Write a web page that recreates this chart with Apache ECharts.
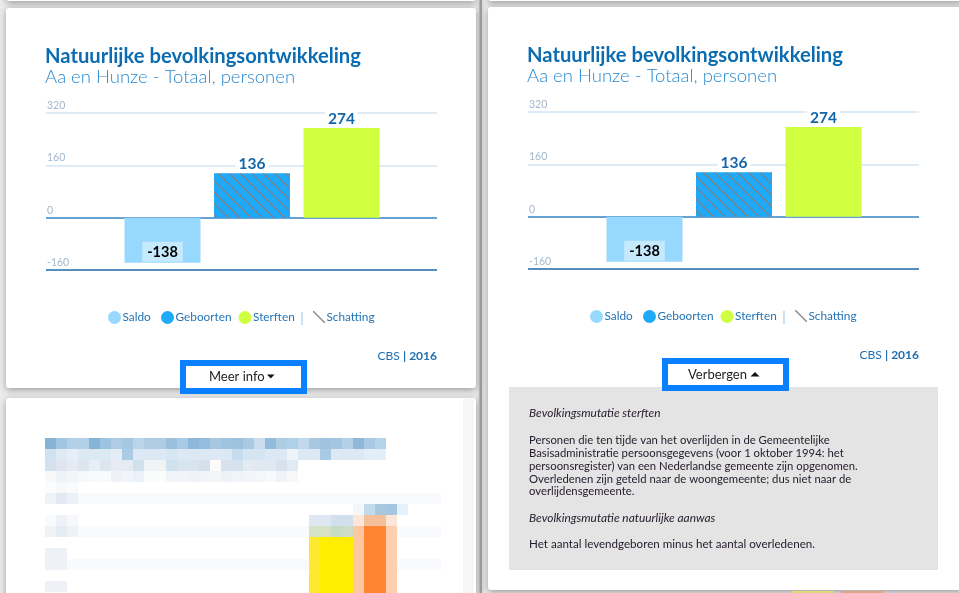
<!DOCTYPE html>
<html><head><meta charset="utf-8">
<script src="https://cdn.jsdelivr.net/npm/echarts@6/dist/echarts.min.js"></script>
<style>html,body{margin:0;padding:0;background:#ececec;}#c{width:959px;height:593px;}</style>
</head><body><div id="c"></div>
<script>
// ---- data ----
const chartTitle = 'Natuurlijke bevolkingsontwikkeling';
const chartSubtitle = 'Aa en Hunze - Totaal, personen';
const categories = ['Saldo', 'Geboorten', 'Sterften'];
const values = [-138, 136, 274];
const estimateName = 'Schatting';
const estimateValues = ['-', 136, '-'];
const yMin = -160, yMax = 320, yStep = 160;
const sourceText = 'CBS';
const sourceYear = '2016';
const buttonLabels = ['Meer info', 'Verbergen'];
const infoHeading1 = 'Bevolkingsmutatie sterften';
const infoBody1 = [
  'Personen die ten tijde van het overlijden in de Gemeentelijke',
  'Basisadministratie persoonsgegevens (voor 1 oktober 1994: het',
  'persoonsregister) van een Nederlandse gemeente zijn opgenomen.',
  'Overledenen zijn geteld naar de woongemeente; dus niet naar de',
  'overlijdensgemeente.'
];
const infoHeading2 = 'Bevolkingsmutatie natuurlijke aanwas';
const infoBody2 = 'Het aantal levendgeboren minus het aantal overledenen.';

// ---- styling ----
const FONT = 'Lato, "Open Sans", sans-serif';
const seriesColors = ['#97d8fe', '#1eaaf9', '#cfff3f'];
const legendLefts = [108, 161, 238.5];
const cards = [{dx: 0, dy: 0}, {dx: 482, dy: -1}];

const chart = echarts.init(document.getElementById('c'), null, {renderer: 'canvas'});

const grids = [], xAxes = [], yAxes = [], series = [], legends = [], titles = [], graphics = [];

// page decoration
function card(x, y, w, h) {
  graphics.push({type: 'rect', z: -10, shape: {x, y, width: w, height: h, r: 3},
    style: {fill: '#fff', shadowBlur: 7, shadowColor: 'rgba(0,0,0,0.35)', shadowOffsetY: 2}});
}
card(6, -40, 470, 41);
card(488, -40, 475, 41);
card(6, 8, 470, 380);
card(6, 398, 470, 260);
card(488, 7, 475, 583);
graphics.push({type: 'rect', z: -9, shape: {x: 463, y: 399, width: 11, height: 200}, style: {fill: '#f6f6f6'}});
graphics.push({type: 'rect', z: -9, shape: {x: 479.5, y: 0, width: 2.5, height: 593}, style: {fill: '#9a9a9a', shadowBlur: 4, shadowColor: 'rgba(0,0,0,0.25)'}});
graphics.push({type: 'rect', z: -9, shape: {x: 792, y: 591, width: 42, height: 2}, style: {fill: '#e2d67a'}});
graphics.push({type: 'rect', z: -9, shape: {x: 841, y: 591, width: 42, height: 2}, style: {fill: '#d9a688'}});

// blurred (pixelated) card content
const mosaicRows = [
  {y: 438, x: 45, c: ['#86b4d6','#a0c6e2','#b2d0e8','#b2d0e8','#86b4d6','#9cc4e0','#b0cce4','#a4c8e2','#bcd4ea','#b0cce4','#aecde4','#9cc0dc','#a8cae4','#8eb8da','#94bcde','#a8c8e2','#a0c4e0','#9cc2de','#a8cae2','#ccdeee','#92bcdc','#aecce4','#aed0e8','#c4d8ec','#a8c8e2','#a0c4e0','#a4c6e2','#b4d0e6','#90b8d8','#a8cae4','#b4d4ea']},
  {y: 449, x: 45, c: ['#cfe2f0','#dfeaf4','#e6eff7','#dce8f2','#dce8f2','#dce8f2','#e4edf6','#aacbe3','#dce9f4','#dce9f4','#dce9f4','#d6e6f2','#dce9f4','#dce9f4','#dce9f4','#dce9f4','#dce9f4','#c6dcec','#d4e4f0','#d4e4f0','#dce9f4','#dce9f4','#eef4fa','#dce9f4','#dce9f4','#a8cae2','#dce9f4','#dce9f4','#dce9f4','#e4eef6','#e4eef6']},
  {y: 460, x: 45, c: ['#d4e2ee','#dfe6f0','#e4ebf3','#dde5ef','#e8eef6','#dde5ef','#e7ecf4','#e6eaf1','#d0e0ec','#f0f3f7','#f2f3f5','#d0e2ee','#d8e4ee','#d8e4ee','#d4e0ec','#fdfbf9','#d8e2ee','#d4e2ee','#e4eaf2','#e0e8f2','#e0e8f2','#d8e2ec','#e0eaf4']},
  {y: 471, x: 45, c: ['#f7f8fa','#eef3f8','#f3f6f9','#f6f8fa','#f8f9fb','#f9fafb','#eef2f7','#f1f4f8','#eaf1f8','#fafbfc','#fbfcfc','#f1f5f9','#f1f5f9','#eff3f7','#f1f4f8','#f3f5f7','#edf2f8','#f0f4f8','#f2f5f9','#f4f6f9','#f8f9fb','#f0f3f7','#f6f8fa']},
  {y: 482, x: 45, c: ['#fbfcfd','#f6f8fa','#f8fafc']},
  {y: 493, x: 45, c: ['#eef3f8','#e2e9f2','#ecf1f8']},
  {y: 504, x: 353, c: ['#f4f7fa','#c2daec','#a8c8e0','#a4c6e0','#e6f2fa']},
  {y: 515, x: 45, c: ['#f8fafc','#eef2f6','#f6f8fa']},
  {y: 515, x: 309, c: ['#dfe8f2','#dfe8f2','#d0e0ee','#d0e0ee','#fde6d8','#f4c09a','#f4c09a','#fde6d8']},
  {y: 526, x: 45, c: ['#eff3f8','#e4ebf3','#eef3f8']},
  {y: 526, x: 309, c: ['#d4e2c8','#d6e2c6','#c6dcc4','#ccdcc8','#fdc8a0','#ff8533','#ff8533','#fdcfae']},
  {y: 548, x: 45, c: ['#eef2f7','#eef2f7']},
  {y: 559, x: 45, c: ['#eef2f7','#eef2f7']},
  {y: 581, x: 45, c: ['#eef2f7','#eef2f7']}
];
[[78, 493, 363], [78, 526, 231], [397, 526, 44], [67, 559, 242], [397, 559, 44]].forEach(s =>
  graphics.push({type: 'rect', z: -8, shape: {x: s[0], y: s[1], width: s[2], height: 11}, style: {fill: '#f8fafd'}}));
mosaicRows.forEach(r => r.c.forEach((col, i) =>
  graphics.push({type: 'rect', z: -7, shape: {x: r.x + i * 11, y: r.y, width: 11, height: 11}, style: {fill: col}})));
[[309, 537, 11, '#ffe830'], [320, 537, 33, '#ffee00'], [353, 537, 11, '#fdc8a0'], [364, 537, 22, '#ff8533'], [386, 537, 11, '#fdcfae']].forEach(s =>
  graphics.push({type: 'rect', z: -7, shape: {x: s[0], y: s[1], width: s[2], height: 60}, style: {fill: s[3]}}));

const legendText = {color: '#2474b5', fontSize: 11.8, fontFamily: FONT,
  rich: {t: {color: '#2474b5', fontSize: 11.8, fontFamily: FONT, padding: [0, 0, 0, -3.5]}}};

cards.forEach((cd, ci) => {
  const {dx, dy} = cd;
  const gA = ci * 2, gB = ci * 2 + 1;
  titles.push({
    text: chartTitle, subtext: chartSubtitle, left: 45 + dx, top: 45.5 + dy, itemGap: -1.5, padding: 0,
    textStyle: {fontFamily: FONT, fontSize: 20.2, fontWeight: 'bold', color: '#0b6cb2', lineHeight: 22},
    subtextStyle: {fontFamily: FONT, fontSize: 18.5, fontWeight: 300, color: '#2a8ad0', lineHeight: 22}
  });
  grids.push({left: 46 + dx, top: 113 + dy, width: 391, height: 157});
  grids.push({left: 117.75 + dx, top: 113 + dy, width: 268.5, height: 157});
  xAxes.push({gridIndex: gA, type: 'category', data: categories, show: false});
  xAxes.push({gridIndex: gB, type: 'category', data: categories, show: false});
  yAxes.push({
    gridIndex: gA, type: 'value', min: yMin, max: yMax, interval: yStep,
    axisLine: {show: false}, axisTick: {show: false},
    axisLabel: {inside: true, margin: 1, verticalAlign: 'bottom', padding: [0, 0, 2, 0],
      color: '#a3b7cc', fontSize: 10.5, fontFamily: FONT},
    splitLine: {show: true, showMinLine: true, showMaxLine: true,
      lineStyle: {color: ['#1d68a6', '#3584c3', '#d3e5f2', '#d3e5f2'], width: 1.5}}
  });
  yAxes.push({gridIndex: gB, type: 'value', min: yMin, max: yMax, interval: yStep, show: false});

  categories.forEach((cat, i) => {
    const isNeg = values[i] < 0;
    series.push({
      name: cat, type: 'bar', xAxisIndex: gB, yAxisIndex: gB, barWidth: 76, barGap: '-100%',
      data: categories.map((c, j) => j === i ? values[i] : '-'),
      itemStyle: {color: seriesColors[i]},
      label: isNeg ? {
        show: true, position: 'insideBottom', distance: 1, backgroundColor: '#c5e9fd', padding: [3, 5, 2, 5],
        color: '#000', fontWeight: 'bold', fontSize: 14.5, fontFamily: FONT
      } : {
        show: true, position: 'top', distance: 1, backgroundColor: '#fff', padding: [1, 3, 0, 3],
        color: '#1566a9', fontWeight: 'bold', fontSize: 15.5, fontFamily: FONT
      }
    });
    legends.push({
      data: [cat], left: legendLefts[i] + dx, top: 311 + dy, icon: 'circle', itemWidth: 13, itemHeight: 13,
      selectedMode: false, padding: 0, formatter: '{t|{name}}', textStyle: legendText
    });
  });
  series.push({
    name: estimateName, type: 'bar', xAxisIndex: gB, yAxisIndex: gB, barWidth: 76, barGap: '-100%',
    data: estimateValues,
    itemStyle: {color: 'rgba(0,0,0,0)',
      decal: {symbol: 'rect', symbolSize: 1, dashArrayX: [1, 0], dashArrayY: [1, 7], rotation: Math.PI / 4,
        color: 'rgba(196,98,50,0.75)'}}
  });
  legends.push({
    data: [{name: estimateName, icon: 'path://M0,0L1,0L12,11L12,12L11,12L0,1Z',
      itemStyle: {color: '#8a8a8a', decal: 'none'}}],
    left: 313 + dx, top: 311 + dy, itemWidth: 12, itemHeight: 12, selectedMode: false, padding: 0,
    formatter: '{t|{name}}', textStyle: legendText
  });
  graphics.push({type: 'text', x: 302 + dx, y: 318 + dy, style: {text: '|', fill: '#9cc7e8', fontSize: 14,
    fontFamily: FONT, align: 'center', verticalAlign: 'middle'}});
  graphics.push({type: 'text', x: 437 + dx, y: 356.5 + dy, style: {
    text: '{a|' + sourceText + '} {b|| ' + sourceYear + '}', align: 'right', verticalAlign: 'middle',
    rich: {a: {fill: '#1e6eb0', fontSize: 12, fontFamily: FONT},
           b: {fill: '#1e6eb0', fontSize: 12, fontFamily: FONT, fontWeight: 'bold'}}}});
});

// info panel (right card)
graphics.push({type: 'rect', z: -6, shape: {x: 509, y: 387, width: 429, height: 183}, style: {fill: '#e4e4e4'}});
const infoStyle = {fill: '#231a2a', fontSize: 11.3, fontFamily: FONT};
graphics.push({type: 'text', x: 529, y: 413.3, style: Object.assign({}, infoStyle, {text: infoHeading1, fontStyle: 'italic', fontSize: 11.9, verticalAlign: 'middle'})});
graphics.push({type: 'text', x: 529, y: 434.3, style: Object.assign({}, infoStyle, {text: infoBody1.join('\n'), lineHeight: 12.75, verticalAlign: 'top'})});
graphics.push({type: 'text', x: 529, y: 517.7, style: Object.assign({}, infoStyle, {text: infoHeading2, fontStyle: 'italic', fontSize: 11.9, verticalAlign: 'middle'})});
graphics.push({type: 'text', x: 529, y: 544, style: Object.assign({}, infoStyle, {text: infoBody2, fontSize: 11.6, verticalAlign: 'middle'})});

// buttons
[[183, 363, 28], [665, 361, 27]].forEach(b => {
  graphics.push({type: 'rect', z: 5, shape: {x: b[0], y: b[1], width: 121, height: b[2]},
    style: {fill: '#fff', stroke: '#0a80fe', lineWidth: 6}});
});
graphics.push({type: 'text', z: 6, x: 209, y: 376.5, style: {text: buttonLabels[0], fill: '#222', fontSize: 13, fontFamily: FONT, verticalAlign: 'middle'}});
graphics.push({type: 'polygon', z: 6, shape: {points: [[267, 374.5], [274.5, 374.5], [270.75, 378.5]]}, style: {fill: '#111'}});
graphics.push({type: 'text', z: 6, x: 688, y: 375, style: {text: buttonLabels[1], fill: '#222', fontSize: 13, fontFamily: FONT, verticalAlign: 'middle'}});
graphics.push({type: 'polygon', z: 6, shape: {points: [[750.5, 376.5], [759.5, 376.5], [755, 372]]}, style: {fill: '#111'}});

chart.setOption({
  backgroundColor: '#ececec',
  animation: false,
  title: titles,
  grid: grids,
  xAxis: xAxes,
  yAxis: yAxes,
  legend: legends,
  series: series,
  graphic: {elements: graphics}
});
</script>
</body></html>
